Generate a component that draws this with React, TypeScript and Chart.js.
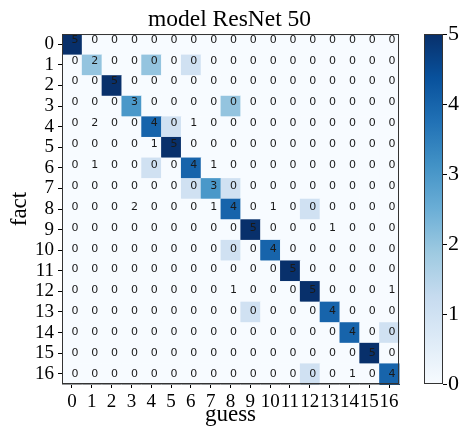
import React, { useEffect, useRef } from "react";
import { Chart, registerables } from "chart.js";

Chart.register(...registerables);

const TITLE = "model ResNet 50";
const X_LABEL = "guess";
const Y_LABEL = "fact";
const CLASSES = [0, 1, 2, 3, 4, 5, 6, 7, 8, 9, 10, 11, 12, 13, 14, 15, 16];

// numbers printed in the cells (rows = fact, columns = guess)
const COUNTS: number[][] = [
  [5, 0, 0, 0, 0, 0, 0, 0, 0, 0, 0, 0, 0, 0, 0, 0, 0],
  [0, 2, 0, 0, 0, 0, 0, 0, 0, 0, 0, 0, 0, 0, 0, 0, 0],
  [0, 0, 5, 0, 0, 0, 0, 0, 0, 0, 0, 0, 0, 0, 0, 0, 0],
  [0, 0, 0, 3, 0, 0, 0, 0, 0, 0, 0, 0, 0, 0, 0, 0, 0],
  [0, 2, 0, 0, 4, 0, 1, 0, 0, 0, 0, 0, 0, 0, 0, 0, 0],
  [0, 0, 0, 0, 1, 5, 0, 0, 0, 0, 0, 0, 0, 0, 0, 0, 0],
  [0, 1, 0, 0, 0, 0, 4, 1, 0, 0, 0, 0, 0, 0, 0, 0, 0],
  [0, 0, 0, 0, 0, 0, 0, 3, 0, 0, 0, 0, 0, 0, 0, 0, 0],
  [0, 0, 0, 2, 0, 0, 0, 1, 4, 0, 1, 0, 0, 0, 0, 0, 0],
  [0, 0, 0, 0, 0, 0, 0, 0, 0, 5, 0, 0, 0, 1, 0, 0, 0],
  [0, 0, 0, 0, 0, 0, 0, 0, 0, 0, 4, 0, 0, 0, 0, 0, 0],
  [0, 0, 0, 0, 0, 0, 0, 0, 0, 0, 0, 5, 0, 0, 0, 0, 0],
  [0, 0, 0, 0, 0, 0, 0, 0, 1, 0, 0, 0, 5, 0, 0, 0, 1],
  [0, 0, 0, 0, 0, 0, 0, 0, 0, 0, 0, 0, 0, 4, 0, 0, 0],
  [0, 0, 0, 0, 0, 0, 0, 0, 0, 0, 0, 0, 0, 0, 4, 0, 0],
  [0, 0, 0, 0, 0, 0, 0, 0, 0, 0, 0, 0, 0, 0, 0, 5, 0],
  [0, 0, 0, 0, 0, 0, 0, 0, 0, 0, 0, 0, 0, 0, 1, 0, 4],
];

// values that set the colour of each cell
const SHADES: number[][] = [
  [5, 0, 0, 0, 0, 0, 0, 0, 0, 0, 0, 0, 0, 0, 0, 0, 0],
  [0, 2, 0, 0, 2, 0, 1, 0, 0, 0, 0, 0, 0, 0, 0, 0, 0],
  [0, 0, 5, 0, 0, 0, 0, 0, 0, 0, 0, 0, 0, 0, 0, 0, 0],
  [0, 0, 0, 3, 0, 0, 0, 0, 2, 0, 0, 0, 0, 0, 0, 0, 0],
  [0, 0, 0, 0, 4, 1, 0, 0, 0, 0, 0, 0, 0, 0, 0, 0, 0],
  [0, 0, 0, 0, 0, 5, 0, 0, 0, 0, 0, 0, 0, 0, 0, 0, 0],
  [0, 0, 0, 0, 1, 0, 4, 0, 0, 0, 0, 0, 0, 0, 0, 0, 0],
  [0, 0, 0, 0, 0, 0, 1, 3, 1, 0, 0, 0, 0, 0, 0, 0, 0],
  [0, 0, 0, 0, 0, 0, 0, 0, 4, 0, 0, 0, 1, 0, 0, 0, 0],
  [0, 0, 0, 0, 0, 0, 0, 0, 0, 5, 0, 0, 0, 0, 0, 0, 0],
  [0, 0, 0, 0, 0, 0, 0, 0, 1, 0, 4, 0, 0, 0, 0, 0, 0],
  [0, 0, 0, 0, 0, 0, 0, 0, 0, 0, 0, 5, 0, 0, 0, 0, 0],
  [0, 0, 0, 0, 0, 0, 0, 0, 0, 0, 0, 0, 5, 0, 0, 0, 0],
  [0, 0, 0, 0, 0, 0, 0, 0, 0, 1, 0, 0, 0, 4, 0, 0, 0],
  [0, 0, 0, 0, 0, 0, 0, 0, 0, 0, 0, 0, 0, 0, 4, 0, 1],
  [0, 0, 0, 0, 0, 0, 0, 0, 0, 0, 0, 0, 0, 0, 0, 5, 0],
  [0, 0, 0, 0, 0, 0, 0, 0, 0, 0, 0, 0, 1, 0, 0, 0, 4],
];

const COLORBAR_TICKS = [0, 1, 2, 3, 4, 5];
const SHADE_MIN = 0;
const SHADE_MAX = 5;

// matplotlib "Blues"
const BLUES: [number, number, number][] = [
  [247, 251, 255],
  [222, 235, 247],
  [198, 219, 239],
  [158, 202, 225],
  [107, 174, 214],
  [66, 146, 198],
  [33, 113, 181],
  [8, 81, 156],
  [8, 48, 107],
];

function blues(t: number): string {
  const c = Math.max(0, Math.min(1, t)) * (BLUES.length - 1);
  const i = Math.min(BLUES.length - 2, Math.floor(c));
  const f = c - i;
  const a = BLUES[i];
  const b = BLUES[i + 1];
  const r = Math.round(a[0] + (b[0] - a[0]) * f);
  const g = Math.round(a[1] + (b[1] - a[1]) * f);
  const bl = Math.round(a[2] + (b[2] - a[2]) * f);
  return `rgb(${r},${g},${bl})`;
}

const SERIF = "'Liberation Serif', 'Times New Roman', serif";

const heatmapPlugin = {
  id: "heatmap",
  beforeDatasetsDraw(chart: any) {
    const { ctx, scales } = chart;
    const xs = scales.x;
    const ys = scales.y;
    ctx.save();
    for (let r = 0; r < SHADES.length; r++) {
      for (let c = 0; c < SHADES[r].length; c++) {
        const x0 = xs.getPixelForValue(c - 0.5);
        const x1 = xs.getPixelForValue(c + 0.5);
        const y0 = ys.getPixelForValue(r - 0.5);
        const y1 = ys.getPixelForValue(r + 0.5);
        ctx.fillStyle = blues((SHADES[r][c] - SHADE_MIN) / (SHADE_MAX - SHADE_MIN));
        ctx.fillRect(Math.min(x0, x1), Math.min(y0, y1), Math.abs(x1 - x0) + 0.5, Math.abs(y1 - y0) + 0.5);
      }
    }
    ctx.font = "11px 'DejaVu Sans', sans-serif";
    ctx.fillStyle = "#1a1a1a";
    ctx.textAlign = "center";
    ctx.textBaseline = "middle";
    const n = COUNTS.length - 1;
    for (let r = 0; r < COUNTS.length; r++) {
      for (let c = 0; c < COUNTS[r].length; c++) {
        const x = xs.getPixelForValue(c);
        const y = ys.getPixelForValue(r);
        ctx.fillText(String(COUNTS[r][c]), x + 3, y - 4.5 + (4.8 * r) / n);
      }
    }
    const a = chart.chartArea;
    ctx.strokeStyle = "#333";
    ctx.lineWidth = 1;
    ctx.strokeRect(a.left + 0.5, a.top + 0.5, a.right - a.left - 1, a.bottom - a.top - 1);
    ctx.restore();
  },
  afterDraw(chart: any) {
    const { ctx, scales } = chart;
    const cb = scales.cb;
    const left = cb.left + 25;
    const w = 19;
    const top = cb.getPixelForValue(SHADE_MAX);
    const bottom = cb.getPixelForValue(SHADE_MIN);
    ctx.save();
    const grad = ctx.createLinearGradient(0, bottom, 0, top);
    for (let i = 0; i < BLUES.length; i++) {
      const s = BLUES[i];
      grad.addColorStop(i / (BLUES.length - 1), `rgb(${s[0]},${s[1]},${s[2]})`);
    }
    ctx.fillStyle = grad;
    ctx.fillRect(left, top, w, bottom - top);
    ctx.strokeStyle = "#333";
    ctx.lineWidth = 1;
    ctx.strokeRect(left + 0.5, top + 0.5, w - 1, bottom - top - 1);
    ctx.strokeStyle = "#000";
    for (const t of COLORBAR_TICKS) {
      const y = Math.round(cb.getPixelForValue(t)) + 0.5;
      ctx.beginPath();
      ctx.moveTo(left + w, y);
      ctx.lineTo(left + w + 4, y);
      ctx.stroke();
    }
    ctx.restore();
  },
};

function noPad(s: any) {
  s.paddingTop = 0;
  s.paddingBottom = 0;
  s.paddingLeft = 0;
  s.paddingRight = 0;
}

export default function App() {
  const ref = useRef<HTMLCanvasElement | null>(null);
  useEffect(() => {
    if (!ref.current) return;
    const cells: { x: number; y: number }[] = [];
    COUNTS.forEach((row, r) => row.forEach((_, c) => cells.push({ x: CLASSES[c], y: CLASSES[r] })));
    const tickFont = { family: SERIF, size: 19 };
    const chart = new Chart(ref.current, {
      type: "scatter",
      data: {
        datasets: [{ data: cells, pointRadius: 0, pointHoverRadius: 0 }],
      },
      options: {
        animation: false,
        responsive: false,
        events: [],
        layout: { padding: 0 },
        plugins: {
          legend: { display: false },
          tooltip: { enabled: false },
          title: {
            display: true,
            text: TITLE,
            color: "#000",
            font: { family: SERIF, size: 23.5, weight: "normal", lineHeight: 1.15 },
            padding: { top: 6, bottom: 1 },
          },
        },
        scales: {
          x: {
            type: "linear",
            min: -0.5,
            max: 16.5,
            afterBuildTicks: (s: any) => {
              s.ticks = CLASSES.map((v) => ({ value: v }));
            },
            afterFit: (s: any) => {
              s.height = 44;
              noPad(s);
            },
            ticks: { color: "#000", font: tickFont, padding: 3, autoSkip: false, maxRotation: 0 },
            grid: { drawOnChartArea: false, drawTicks: true, tickLength: 4, color: "#000" },
            border: { display: true, color: "#333" },
            title: {
              display: true,
              text: X_LABEL,
              color: "#000",
              font: { family: SERIF, size: 23, lineHeight: 1 },
              padding: { top: 0, bottom: 1.5 },
            },
          },
          y: {
            type: "linear",
            reverse: true,
            min: -0.5,
            max: 16.5,
            afterBuildTicks: (s: any) => {
              s.ticks = CLASSES.map((v) => ({ value: v }));
            },
            afterFit: (s: any) => {
              s.width = 62;
              noPad(s);
            },
            ticks: { color: "#000", font: tickFont, padding: 4, autoSkip: false },
            grid: { drawOnChartArea: false, drawTicks: true, tickLength: 4, color: "#000" },
            border: { display: true, color: "#333" },
            title: {
              display: true,
              text: Y_LABEL,
              color: "#000",
              font: { family: SERIF, size: 23, lineHeight: 1 },
              padding: { top: 8, bottom: 0 },
            },
          },
          cb: {
            type: "linear",
            position: "right",
            min: SHADE_MIN,
            max: SHADE_MAX,
            afterBuildTicks: (s: any) => {
              s.ticks = COLORBAR_TICKS.map((v) => ({ value: v }));
            },
            afterFit: (s: any) => {
              s.width = 60;
              noPad(s);
            },
            ticks: { color: "#000", font: { family: SERIF, size: 22 }, padding: 49 },
            grid: { display: false, drawTicks: false, drawOnChartArea: false },
            border: { display: false },
          },
        },
      },
      plugins: [heatmapPlugin],
    } as any);
    return () => chart.destroy();
  }, []);
  return (
    <div style={{ position: "fixed", left: 0, top: 0, width: 459, height: 428, background: "#fff" }}>
      <canvas ref={ref} width={459} height={428} style={{ width: 459, height: 428, display: "block" }} />
    </div>
  );
}
